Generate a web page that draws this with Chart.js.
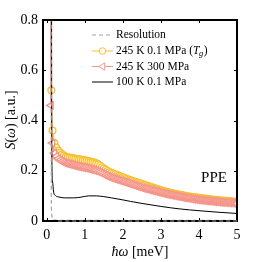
<!DOCTYPE html>
<html>
<head>
<meta charset="utf-8">
<script src="https://cdn.jsdelivr.net/npm/chart.js@4.4.0/dist/chart.umd.min.js"></script>
<style>
  html, body { margin: 0; padding: 0; background: #fff; }
  #wrap { width: 262px; height: 262px; }
</style>
</head>
<body>
<div id="wrap"><canvas id="sw" width="262" height="262"></canvas></div>
<script>
"use strict";
// tick labels
const xTicks = [0, 1, 2, 3, 4, 5];
const yTicks = [0, 0.2, 0.4, 0.6, 0.8];

// instrument resolution
const resX = [-0.15, -0.1, -0.09, 0, 0.1, 0.12, 0.14, 0.3, 5.1];
const resY = [0, 0.003, 2.5, 10, 2.5, 0.05, 0.004, 0.003, 0.003];

// energy grid of the 245 K spectra (after the first few points)
const gridX = [0.2, 0.25, 0.3, 0.35, 0.4, 0.45, 0.5, 0.55, 0.6, 0.65, 0.7, 0.75,
  0.8, 0.85, 0.9, 0.95, 1.0, 1.05, 1.1, 1.15, 1.2, 1.25, 1.3, 1.35, 1.4, 1.45,
  1.5, 1.55, 1.6, 1.65, 1.7, 1.75, 1.8, 1.85, 1.9, 1.95, 2.0, 2.05, 2.1, 2.15,
  2.2, 2.25, 2.3, 2.35, 2.4, 2.45, 2.5, 2.55, 2.6, 2.65, 2.7, 2.75, 2.8, 2.85,
  2.9, 2.95, 3.0, 3.05, 3.1, 3.15, 3.2, 3.25, 3.3, 3.35, 3.4, 3.45, 3.5, 3.55,
  3.6, 3.65, 3.7, 3.75, 3.8, 3.85, 3.9, 3.95, 4.0, 4.05, 4.1, 4.15, 4.2, 4.25,
  4.3, 4.35, 4.4, 4.45, 4.5, 4.55, 4.6, 4.65, 4.7, 4.75, 4.8, 4.85, 4.9, 4.95, 5.0];

// 245 K 0.1 MPa (Tg)
const tgX = [0.1, 0.12, 0.15].concat(gridX);
const tgY = [1.5, 0.52, 0.36,
  0.31, 0.292, 0.28, 0.272, 0.265, 0.26, 0.255, 0.253, 0.252, 0.25, 0.249, 0.248,
  0.246, 0.245, 0.244, 0.242, 0.241, 0.24, 0.238, 0.236, 0.234, 0.232, 0.229, 0.225, 0.22, 0.214,
  0.209, 0.204, 0.199, 0.195, 0.192, 0.189, 0.186, 0.183, 0.18, 0.177, 0.174, 0.171, 0.168, 0.165,
  0.162, 0.16, 0.157, 0.155, 0.152, 0.15, 0.147, 0.145, 0.142, 0.14, 0.137, 0.135, 0.132, 0.13,
  0.127, 0.125, 0.122, 0.12, 0.118, 0.116, 0.114, 0.112, 0.11, 0.109, 0.107, 0.106, 0.104, 0.103,
  0.101, 0.1, 0.098, 0.097, 0.096, 0.095, 0.094, 0.093, 0.092, 0.091, 0.09, 0.089, 0.088, 0.087,
  0.086, 0.085, 0.084, 0.084, 0.083, 0.082, 0.081, 0.081, 0.08, 0.08, 0.079, 0.078, 0.077, 0.077, 0.076];

// 245 K 300 MPa
const hpX = [0.1, 0.11, 0.15].concat(gridX);
const hpY = [1.4, 0.46, 0.31,
  0.27, 0.257, 0.248, 0.242, 0.237, 0.233, 0.23, 0.228, 0.226, 0.224, 0.222, 0.22,
  0.218, 0.216, 0.215, 0.213, 0.212, 0.21, 0.208, 0.206, 0.204, 0.202, 0.2, 0.197, 0.194, 0.19,
  0.186, 0.182, 0.178, 0.175, 0.172, 0.17, 0.167, 0.165, 0.162, 0.16, 0.157, 0.155, 0.152, 0.15,
  0.147, 0.145, 0.142, 0.14, 0.137, 0.135, 0.132, 0.13, 0.128, 0.126, 0.124, 0.122, 0.12, 0.118,
  0.116, 0.114, 0.112, 0.11, 0.108, 0.107, 0.105, 0.104, 0.102, 0.101, 0.099, 0.098, 0.096, 0.095,
  0.093, 0.092, 0.091, 0.09, 0.088, 0.087, 0.086, 0.085, 0.084, 0.083, 0.082, 0.081, 0.08, 0.08,
  0.079, 0.078, 0.077, 0.077, 0.076, 0.075, 0.074, 0.074, 0.073, 0.073, 0.072, 0.072, 0.071, 0.071, 0.07];

// 100 K 0.1 MPa
const lowX = [0.12, 0.13, 0.15, 0.18, 0.22, 0.3, 0.5, 0.7, 0.9, 1.1, 1.3, 1.5, 1.7,
  2.0, 2.2, 2.5, 3.0, 3.5, 4.0, 4.5, 5.0];
const lowY = [2.0, 0.3, 0.16, 0.115, 0.102, 0.096, 0.092, 0.092, 0.095, 0.1, 0.1, 0.097, 0.092,
  0.084, 0.078, 0.07, 0.058, 0.048, 0.041, 0.035, 0.03];

const labels = ["Resolution", "245 K 0.1 MPa", "245 K 300 MPa", "100 K 0.1 MPa"];
const colors = ["#a3a3a3", "#f9c135", "#f4968b", "#000000"];

function pts(xs, ys){
  let out = [];
  for(let i = 0; i < xs.length; i++) out.push({x: xs[i], y: ys[i]});
  return out;
}

const serif = "'Liberation Serif', 'DejaVu Serif', serif";

// draws one legend marker by hand
function marker(ctx, kind, x, y, r, col){
  ctx.save();
  ctx.strokeStyle = col;
  ctx.fillStyle = "#fff";
  ctx.lineWidth = 1;
  ctx.beginPath();
  if(kind == "circle"){
    ctx.arc(x, y, r, 0, Math.PI * 2);
  } else if(kind == "tri"){
    ctx.moveTo(x - r, y);
    ctx.lineTo(x + r * 0.6, y - r * 0.95);
    ctx.lineTo(x + r * 0.6, y + r * 0.95);
    ctx.closePath();
  }
  ctx.fill();
  ctx.stroke();
  ctx.restore();
}

const framePlugin = {
  id: "frame",
  afterDatasetsDraw(chart){
    const {ctx, chartArea: a, scales} = chart;
    ctx.save();
    ctx.strokeStyle = "#000";
    ctx.lineWidth = 1;
    // inward ticks on all four sides
    xTicks.forEach(v => {
      let px = Math.round(scales.x.getPixelForValue(v)) + 0.5;
      ctx.beginPath();
      ctx.moveTo(px, a.bottom); ctx.lineTo(px, a.bottom - 3);
      ctx.moveTo(px, a.top); ctx.lineTo(px, a.top + 3);
      ctx.stroke();
    });
    yTicks.forEach(v => {
      let py = Math.round(scales.y.getPixelForValue(v)) + 0.5;
      ctx.beginPath();
      ctx.moveTo(a.left, py); ctx.lineTo(a.left + 3, py);
      ctx.moveTo(a.right, py); ctx.lineTo(a.right - 3, py);
      ctx.stroke();
    });
    ctx.lineWidth = 2;
    ctx.strokeRect(a.left, a.top, a.right - a.left, a.bottom - a.top);
    // resolution dashes run over the bottom axis
    ctx.strokeStyle = colors[0];
    ctx.lineWidth = 1.2;
    ctx.setLineDash([4, 3]);
    ctx.beginPath();
    ctx.moveTo(scales.x.getPixelForValue(0.3), a.bottom);
    ctx.lineTo(a.right, a.bottom);
    ctx.stroke();
    ctx.restore();
  },
  afterDraw(chart){
    const {ctx} = chart;
    ctx.save();
    ctx.fillStyle = "#000";
    ctx.textBaseline = "middle";

    // legend
    const rows = [35, 51, 66.5, 82];
    const lx0 = 92, lx1 = 113, tx = 116;
    const lf = "11.5px " + serif;
    ctx.font = lf;
    for(let i = 0; i < 4; i++){
      ctx.save();
      ctx.strokeStyle = colors[i];
      ctx.lineWidth = i == 0 ? 1.2 : 1;
      if(i == 0) ctx.setLineDash([4, 3]);
      ctx.beginPath();
      ctx.moveTo(lx0, rows[i]); ctx.lineTo(lx1, rows[i]);
      ctx.stroke();
      ctx.restore();
      if(i == 1) marker(ctx, "circle", (lx0 + lx1) / 2, rows[i], 3.3, colors[i]);
      if(i == 2) marker(ctx, "tri", (lx0 + lx1) / 2, rows[i], 3.8, colors[i]);
      if(i != 1) ctx.fillText(labels[i], tx, rows[i]);
    }
    // label with (T_g)
    ctx.font = lf;
    let w = ctx.measureText(labels[1] + " (").width;
    ctx.fillText(labels[1] + " (", tx, rows[1]);
    ctx.font = "italic 11.5px " + serif;
    ctx.fillText("T", tx + w, rows[1]);
    let wT = ctx.measureText("T").width;
    ctx.font = "italic 8.5px " + serif;
    ctx.fillText("g", tx + w + wT - 0.5, rows[1] + 3);
    let wg = ctx.measureText("g").width;
    ctx.font = lf;
    ctx.fillText(")", tx + w + wT + wg, rows[1]);

    // PPE tag
    ctx.font = "15px " + serif;
    ctx.textAlign = "center";
    ctx.fillText("PPE", 214, 178);

    // x title
    ctx.textAlign = "left";
    let f1 = "italic 14px " + serif, f2 = "14px " + serif;
    ctx.font = f1; let wa = ctx.measureText("\u0127\u03c9").width;
    ctx.font = f2; let wb = ctx.measureText(" [meV]").width;
    let sx = 140 - (wa + wb) / 2;
    ctx.font = f1; ctx.fillText("\u0127\u03c9", sx, 252);
    ctx.font = f2; ctx.fillText(" [meV]", sx + wa, 252);

    // y title, rotated
    ctx.translate(11, 120);
    ctx.rotate(-Math.PI / 2);
    const parts = [["S", f1], ["(", f2], ["\u03c9", f1], [") [a.u.]", f2]];
    let tot = 0;
    parts.forEach(p => { ctx.font = p[1]; tot += ctx.measureText(p[0]).width; });
    let cx = -tot / 2;
    parts.forEach(p => { ctx.font = p[1]; ctx.fillText(p[0], cx, 0); cx += ctx.measureText(p[0]).width; });
    ctx.restore();
  }
};

const ctx = document.getElementById("sw");
const sChart = new Chart(ctx, {
  type: "line",
  data: {
    datasets: [
      {
        label: labels[0], data: pts(resX, resY), order: 1,
        borderColor: colors[0], borderWidth: 1.2, borderDash: [4, 3],
        pointRadius: 0, fill: false
      },
      {
        label: labels[1], data: pts(tgX, tgY), order: 4,
        borderColor: colors[1], borderWidth: 1,
        pointStyle: "circle", pointRadius: 3.4, pointBorderWidth: 1.4,
        pointBorderColor: colors[1], pointBackgroundColor: "#fff", fill: false
      },
      {
        label: labels[2], data: pts(hpX, hpY), order: 3,
        borderColor: colors[2], borderWidth: 1,
        pointStyle: "triangle", pointRotation: -90, pointRadius: 4.3, pointBorderWidth: 1.4,
        pointBorderColor: colors[2], pointBackgroundColor: "#fff", fill: false
      },
      {
        label: labels[3], data: pts(lowX, lowY), order: 2,
        borderColor: colors[3], borderWidth: 1, cubicInterpolationMode: "monotone",
        pointRadius: 0, fill: false
      }
    ]
  },
  options: {
    responsive: false,
    animation: false,
    events: [],
    layout: { padding: { top: 20, right: 25, left: 0, bottom: 0 } },
    plugins: { legend: { display: false }, tooltip: { enabled: false } },
    scales: {
      x: {
        type: "linear", min: -0.1, max: 5,
        afterBuildTicks(s){ s.ticks = xTicks.map(v => ({value: v})); },
        afterFit(s){ s.height = 41; },
        grid: { display: false, drawTicks: false },
        border: { display: false },
        ticks: { color: "#000", font: { family: serif, size: 14 }, padding: 6, maxRotation: 0 }
      },
      y: {
        type: "linear", min: 0, max: 0.8,
        afterBuildTicks(s){ s.ticks = yTicks.map(v => ({value: v})); },
        afterFit(s){ s.width = 43; },
        grid: { display: false, drawTicks: false },
        border: { display: false },
        ticks: {
          color: "#000", font: { family: serif, size: 14 }, padding: 5,
          callback: v => v == 0 ? "0" : v.toFixed(1)
        }
      }
    }
  },
  plugins: [framePlugin]
});
</script>
</body>
</html>
